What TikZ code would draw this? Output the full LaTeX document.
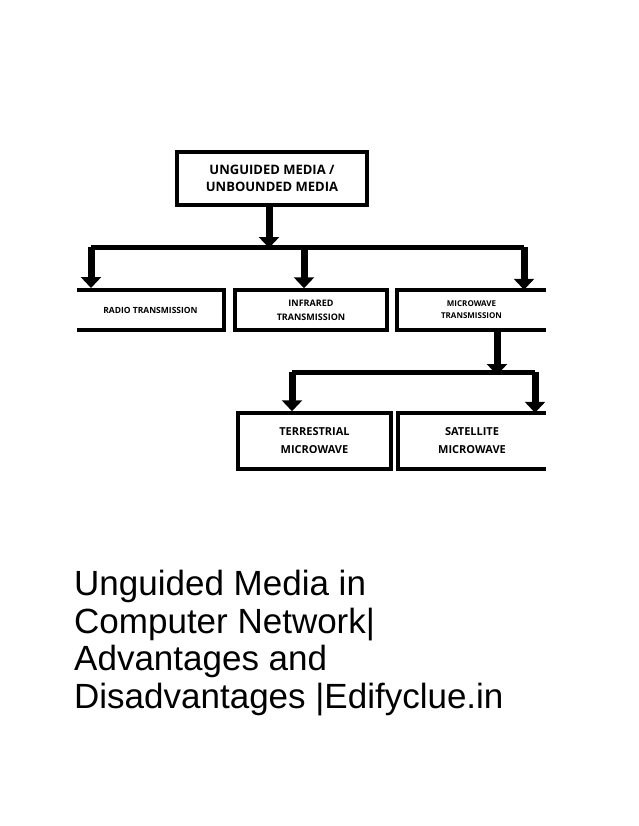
\documentclass[tikz,border=0pt]{standalone}
\usepackage{fontspec}
\setmainfont{Liberation Sans}
\newfontfamily\boxfont{Open Sans}
\usetikzlibrary{arrows.meta}
\begin{document}
\begin{tikzpicture}[x=1pt,y=-1pt,
  bx/.style={line width=3.5pt},
  lbl/.style={font=\boxfont\bfseries, align=center, inner sep=0pt},
  bar/.style={line width=5pt},
  thick arrow/.style={line width=7pt,-{Triangle[width=20pt,length=11pt]}}]
\useasboundingbox (0,0) rectangle (638,826);
% boxes
\node[draw, bx, minimum width=190pt, minimum height=53pt, lbl, font=\boxfont\bfseries\fontsize{13}{17}\selectfont] (top) at (272,178.5) {UNGUIDED MEDIA /\\UNBOUNDED MEDIA};
\node[lbl, font=\boxfont\bfseries\fontsize{8.5}{12}\selectfont, minimum width=147pt, minimum height=40pt] (radio) at (150.5,310) {RADIO TRANSMISSION};
\draw[bx] (radio.north west) -- (radio.north east) -- (radio.south east) -- (radio.south west);
\node[draw, bx, lbl, font=\boxfont\bfseries\fontsize{9}{14}\selectfont, minimum width=152pt, minimum height=40pt] (infra) at (311,310) {INFRARED\\TRANSMISSION};
\node[lbl, font=\boxfont\bfseries\fontsize{8}{12}\selectfont, minimum width=149pt, minimum height=40pt] (micro) at (471.5,310) {MICROWAVE\\TRANSMISSION};
\draw[bx] (micro.north east) -- (micro.north west) -- (micro.south west) -- (micro.south east);
\node[draw, bx, lbl, font=\boxfont\bfseries\fontsize{11}{18}\selectfont, minimum width=153pt, minimum height=56pt] (terr) at (314.5,441) {TERRESTRIAL\\MICROWAVE};
\node[lbl, font=\boxfont\bfseries\fontsize{11}{18}\selectfont, minimum width=148pt, minimum height=56pt] (sat) at (472,441) {SATELLITE\\MICROWAVE};
\draw[bx] (sat.north east) -- (sat.north west) -- (sat.south west) -- (sat.south east);
% connectors
\coordinate (j1) at (269,247);
\coordinate (j2) at (497,372);
\draw[thick arrow] (top.south -| j1) -- ([yshift=-1pt]j1);
\draw[bar] (91,247) coordinate (l1) -- (524,247) coordinate (r1);
\draw[thick arrow] (l1) -- (91,288) coordinate (ra);
\draw[thick arrow] (304,247) coordinate (m1) -- (infra.north -| m1);
\draw[thick arrow] (r1) -- (micro.north -| r1);
\draw[thick arrow] (micro.south -| j2) -- ([yshift=-3pt]j2);
\draw[bar] (292,372) coordinate (l2) -- (535,372) coordinate (r2);
\draw[thick arrow] (l2) -- (terr.north -| l2);
\draw[thick arrow] (r2) -- (sat.north -| r2);
% title
\node[anchor=north west, align=left, inner sep=0pt, font=\fontsize{35}{37.5}\selectfont] (title) at (74,570) {Unguided Media in\\Computer Network|\\Advantages and\\Disadvantages |Edifyclue.in};
\end{tikzpicture}
\end{document}
